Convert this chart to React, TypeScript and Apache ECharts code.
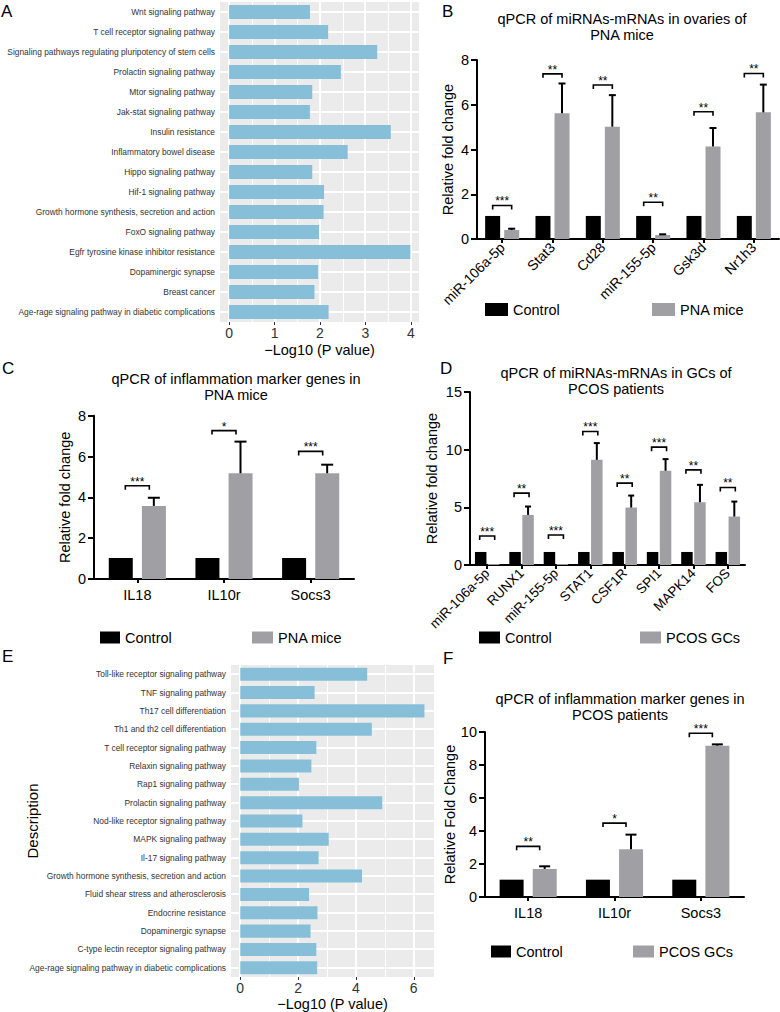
import React, { useEffect, useRef } from 'react';
import * as echarts from 'echarts';

const FONT = '"Liberation Sans", Arial, Helvetica, sans-serif';

// ---------- Panel A (KEGG, mice) ----------
const pathwaysA = [
  'Wnt signaling pathway',
  'T cell receptor signaling pathway',
  'Signaling pathways regulating pluripotency of stem cells',
  'Prolactin signaling pathway',
  'Mtor signaling pathway',
  'Jak-stat signaling pathway',
  'Insulin resistance',
  'Inflammatory bowel disease',
  'Hippo signaling pathway',
  'Hif-1 signaling pathway',
  'Growth hormone synthesis, secretion and action',
  'FoxO signaling pathway',
  'Egfr tyrosine kinase inhibitor resistance',
  'Dopaminergic synapse',
  'Breast cancer',
  'Age-rage signaling pathway in diabetic complications',
];
const valuesA = [1.78, 2.18, 3.26, 2.46, 1.83, 1.78, 3.56, 2.61, 1.83, 2.09, 2.08, 1.98, 3.99, 1.96, 1.88, 2.19];
const majorTicksA = [0, 1, 2, 3, 4];
const minorTicksA = [0.5, 1.5, 2.5, 3.5];

// ---------- Panel E (KEGG, patients) ----------
const pathwaysE = [
  'Toll-like receptor signaling pathway',
  'TNF signaling pathway',
  'Th17 cell differentiation',
  'Th1 and th2 cell differentiation',
  'T cell receptor signaling pathway',
  'Relaxin signaling pathway',
  'Rap1 signaling pathway',
  'Prolactin signaling pathway',
  'Nod-like receptor signaling pathway',
  'MAPK signaling pathway',
  'Il-17 signaling pathway',
  'Growth hormone synthesis, secretion and action',
  'Fluid shear stress and atherosclerosis',
  'Endocrine resistance',
  'Dopaminergic synapse',
  'C-type lectin receptor signaling pathway',
  'Age-rage signaling pathway in diabetic complications',
];
const valuesE = [4.39, 2.57, 6.37, 4.55, 2.63, 2.46, 2.03, 4.91, 2.15, 3.06, 2.71, 4.21, 2.38, 2.67, 2.43, 2.63, 2.66];
const majorTicksE = [0, 2, 4, 6];
const minorTicksE = [1, 3, 5];

// ---------- Panel B ----------
const genesB = ['miR-106a-5p', 'Stat3', 'Cd28', 'miR-155-5p', 'Gsk3d', 'Nr1h3'];
const controlB = [1.03, 1.03, 1.03, 1.03, 1.03, 1.03];
const pnaB = [0.4, 5.62, 5.02, 0.18, 4.13, 5.66];
const pnaErrB = [0.06, 1.33, 1.41, 0.03, 0.83, 1.24];
const starsB = ['***', '**', '**', '**', '**', '**'];
const bracketB = [1.5, 7.38, 6.88, 1.64, 5.69, 7.4];

// ---------- Panel C ----------
const genesC = ['IL18', 'IL10r', 'Socs3'];
const controlC = [1.03, 1.03, 1.03];
const pnaC = [3.58, 5.18, 5.18];
const pnaErrC = [0.4, 1.55, 0.42];
const starsC = ['***', '*', '***'];
const bracketC = [4.57, 7.27, 6.25];

// ---------- Panel D ----------
const genesD = ['miR-106a-5p', 'RUNX1', 'miR-155-5p', 'STAT1', 'CSF1R', 'SPI1', 'MAPK14', 'FOS'];
const controlD = [1.13, 1.13, 1.13, 1.13, 1.13, 1.13, 1.13, 1.13];
const pcosD = [0.08, 4.34, 0.08, 9.12, 4.98, 8.17, 5.44, 4.2];
const pcosErrD = [0, 0.73, 0, 1.45, 1.04, 1.01, 1.51, 1.3];
const starsD = ['***', '**', '***', '***', '**', '***', '**', '**'];
const bracketD = [2.52, 6.23, 2.6, 11.58, 7.1, 10.22, 8.25, 6.72];

// ---------- Panel F ----------
const genesF = ['IL18', 'IL10r', 'Socs3'];
const controlF = [1.05, 1.05, 1.05];
const pcosF = [1.7, 2.9, 9.17];
const pcosErrF = [0.16, 0.88, 0.08];
const starsF = ['**', '*', '***'];
const bracketF = [3.07, 4.48, 9.92];

const BLUE = '#87BFD9';
const GREY = '#A0A0A4';
const PANEL_BG = '#EBEBEB';

const snap = (v: number) => Math.round(v) + 0.5;

function keggPanel(idx: number, cats: string[], vals: number[], major: number[], minor: number[], xMin: number, xMax: number, tickSize: number, yName: string, yNameGap: number, xNameGap: number) {
  const xAxis = {
    type: 'value', gridIndex: idx, min: xMin, max: xMax, splitNumber: 4,
    name: '\u2212Log10 (P value)', nameLocation: 'middle', nameGap: xNameGap, nameMoveOverlap: false,
    nameTextStyle: { fontSize: 14.5, color: '#000', fontFamily: FONT, verticalAlign: 'top' },
    axisLine: { show: false },
    axisTick: { show: true, length: 3, customValues: major, lineStyle: { color: '#333', width: 1 } },
    axisLabel: { customValues: major, fontSize: tickSize, color: '#333', margin: 4, fontFamily: FONT },
    splitLine: { show: false },
  };
  const yAxis = {
    type: 'category', gridIndex: idx, data: cats, inverse: true,
    name: yName, nameLocation: 'middle', nameGap: yNameGap, nameRotate: 90, nameMoveOverlap: false,
    nameTextStyle: { fontSize: 15, color: '#000', fontFamily: FONT },
    axisLine: { show: false },
    axisTick: { show: true, length: 3, alignWithLabel: true, lineStyle: { color: '#333', width: 1 } },
    axisLabel: { interval: 0, fontSize: 8.4, color: '#333', margin: 5, fontFamily: FONT },
    splitLine: { show: false },
  };
  // ggplot-style grey panel with white grid lines, all placed through the axes' own scales
  const series = [
    {
      type: 'custom', xAxisIndex: idx, yAxisIndex: idx, data: [[0, 0]], z: 1, silent: true,
      renderItem: (params: any, api: any) => {
        const cs = params.coordSys;
        const children: any[] = [
          { type: 'rect', shape: { x: cs.x, y: cs.y, width: cs.width, height: cs.height }, style: { fill: PANEL_BG } },
        ];
        minor.forEach((v) => {
          const x = snap(api.coord([v, 0])[0]);
          children.push({ type: 'line', shape: { x1: x, y1: cs.y, x2: x, y2: cs.y + cs.height }, style: { stroke: '#FFFFFF', lineWidth: 1 } });
        });
        major.forEach((v) => {
          const x = Math.round(api.coord([v, 0])[0]);
          children.push({ type: 'line', shape: { x1: x, y1: cs.y, x2: x, y2: cs.y + cs.height }, style: { stroke: '#FFFFFF', lineWidth: 2 } });
        });
        cats.forEach((_, i) => {
          const y = Math.round(api.coord([0, i])[1]);
          children.push({ type: 'line', shape: { x1: cs.x, y1: y, x2: cs.x + cs.width, y2: y }, style: { stroke: '#FFFFFF', lineWidth: 2 } });
        });
        return { type: 'group', children };
      },
    },
    {
      type: 'bar', xAxisIndex: idx, yAxisIndex: idx, data: vals, barWidth: '71%', z: 3,
      itemStyle: { color: BLUE }, silent: true,
    },
  ];
  return { xAxis, yAxis, series };
}

type PrismCfg = {
  yMax: number; yInterval: number; barWidth: number; gapPx: number; capHalf: number; bracketHalf: number;
  rotate: number; labelSize: number; yName: string; nameGap: number; labelMargin: number;
};

function prismPanel(idx: number, cats: string[], ctrl: number[], treat: number[], err: number[], stars: string[], bracket: number[], treatName: string, c: PrismCfg) {
  const off = (c.barWidth + c.gapPx) / 2;
  const xAxis = {
    type: 'category', gridIndex: idx, data: cats,
    axisLine: { show: true, lineStyle: { color: '#000', width: 2 } },
    axisTick: { show: true, alignWithLabel: true, length: 4, lineStyle: { color: '#000', width: 2 } },
    axisLabel: { interval: 0, rotate: c.rotate, fontSize: c.labelSize, color: '#000', margin: c.labelMargin, fontFamily: FONT },
    splitLine: { show: false },
  };
  const yAxis = {
    type: 'value', gridIndex: idx, min: 0, max: c.yMax, interval: c.yInterval,
    name: c.yName, nameLocation: 'middle', nameGap: c.nameGap, nameRotate: 90, nameMoveOverlap: false,
    nameTextStyle: { fontSize: 14.5, color: '#000', fontFamily: FONT },
    axisLine: { show: true, lineStyle: { color: '#000', width: 2 } },
    axisTick: { show: true, length: 6, lineStyle: { color: '#000', width: 2 } },
    axisLabel: { fontSize: 14.5, color: '#000', margin: 8, fontFamily: FONT },
    splitLine: { show: false },
  };
  const gapPct = Math.round((c.gapPx / c.barWidth) * 100) + '%';
  const errData = cats.map((_, i) => [i, treat[i], err[i]]);
  const brData = cats.map((_, i) => [i, bracket[i]]);
  const series = [
    { type: 'bar', name: 'Control', xAxisIndex: idx, yAxisIndex: idx, data: ctrl, barWidth: c.barWidth, barGap: gapPct, itemStyle: { color: '#000' }, silent: true },
    { type: 'bar', name: treatName, xAxisIndex: idx, yAxisIndex: idx, data: treat, barWidth: c.barWidth, barGap: gapPct, itemStyle: { color: GREY }, silent: true },
    {
      type: 'custom', xAxisIndex: idx, yAxisIndex: idx, data: errData, z: 3, silent: true,
      renderItem: (params: any, api: any) => {
        const i = api.value(0), m = api.value(1), e = api.value(2);
        if (!e) return { type: 'group', children: [] };
        const p0 = api.coord([i, m]);
        const p1 = api.coord([i, m + e]);
        const x = p0[0] + off;
        return {
          type: 'group', children: [
            { type: 'line', shape: { x1: x, y1: p0[1], x2: x, y2: p1[1] }, style: { stroke: '#000', lineWidth: 2 } },
            { type: 'line', shape: { x1: x - c.capHalf, y1: p1[1], x2: x + c.capHalf, y2: p1[1] }, style: { stroke: '#000', lineWidth: 2 } },
          ],
        };
      },
    },
    {
      type: 'custom', xAxisIndex: idx, yAxisIndex: idx, data: brData, z: 3, silent: true,
      renderItem: (params: any, api: any) => {
        const i = api.value(0), lvl = api.value(1);
        const p = api.coord([i, lvl]);
        const xl = p[0] - c.bracketHalf, xr = p[0] + c.bracketHalf, y = p[1];
        return {
          type: 'group', children: [
            { type: 'polyline', shape: { points: [[xl, y + 4], [xl, y], [xr, y], [xr, y + 4]] }, style: { stroke: '#000', lineWidth: 1.6, fill: 'none' } },
            { type: 'text', style: { text: stars[params.dataIndex], x: p[0], y: y - 4, align: 'center', verticalAlign: 'middle', fontSize: 12, fill: '#000', fontFamily: FONT } },
          ],
        };
      },
    },
  ];
  return { xAxis, yAxis, series };
}

function buildOption() {
  const A = keggPanel(0, pathwaysA, valuesA, majorTicksA, minorTicksA, -0.2, 4.18, 14, '', 191, 20);
  const B = prismPanel(1, genesB, controlB, pnaB, pnaErrB, starsB, bracketB, 'PNA mice', {
    yMax: 8, yInterval: 2, barWidth: 15, gapPx: 4, capHalf: 3.5, bracketHalf: 9.5, rotate: 45, labelSize: 14,
    yName: 'Relative fold change', nameGap: 22, labelMargin: 6,
  });
  const C = prismPanel(2, genesC, controlC, pnaC, pnaErrC, starsC, bracketC, 'PNA mice', {
    yMax: 8, yInterval: 2, barWidth: 24, gapPx: 9, capHalf: 6, bracketHalf: 12, rotate: 0, labelSize: 14.5,
    yName: 'Relative fold change', nameGap: 22, labelMargin: 8,
  });
  const D = prismPanel(3, genesD, controlD, pcosD, pcosErrD, starsD, bracketD, 'PCOS GCs', {
    yMax: 15, yInterval: 5, barWidth: 11.5, gapPx: 1.5, capHalf: 3, bracketHalf: 7.5, rotate: 45, labelSize: 13.5,
    yName: 'Relative fold change', nameGap: 31, labelMargin: 6,
  });
  const E = keggPanel(4, pathwaysE, valuesE, majorTicksE, minorTicksE, -0.32, 6.7, 14, 'Description', 191, 19);
  const F = prismPanel(5, genesF, controlF, pcosF, pcosErrF, starsF, bracketF, 'PCOS GCs', {
    yMax: 10, yInterval: 2, barWidth: 24, gapPx: 9, capHalf: 5.5, bracketHalf: 11.5, rotate: 0, labelSize: 14.5,
    yName: 'Relative Fold Change', nameGap: 28, labelMargin: 8,
  });
  const panels = [A, B, C, D, E, F];

  const grids = [
    { left: 220, top: 2, width: 199, height: 320 },
    { left: 477, top: 60, width: 302, height: 179 },
    { left: 94, top: 415.7, width: 260, height: 163.3 },
    { left: 470, top: 392, width: 275, height: 173 },
    { left: 231, top: 665, width: 203, height: 312 },
    { left: 485, top: 732, width: 259, height: 165 },
  ].map((g) => ({ containLabel: false, outerBoundsMode: 'none', show: false, ...g }));

  const letter = (t: string, left: number, top: number) => ({
    text: t, left, top, padding: 0, textStyle: { fontSize: 17, fontWeight: 'normal', color: '#000', fontFamily: FONT },
  });
  const heading = (t: string, cx: number, top: number) => ({
    text: t, left: cx, top, padding: 0, textAlign: 'center',
    textStyle: { fontSize: 14.5, fontWeight: 'normal', color: '#000', lineHeight: 16, fontFamily: FONT, align: 'center' },
  });

  const legendBase = {
    orient: 'horizontal', padding: 0, icon: 'rect', itemHeight: 12, selectedMode: false,
    textStyle: { fontSize: 14.5, color: '#000', fontFamily: FONT },
  };
  const lg = (name: string, left: number, top: number, w: number, h: number) => ({
    ...legendBase, data: [name], left, top, itemWidth: w, itemHeight: h,
  });

  return {
    animation: false,
    textStyle: { fontFamily: FONT },
    backgroundColor: '#FFFFFF',
    title: [
      letter('A', 1, 3),
      letter('B', 442, 3),
      letter('C', 2, 360),
      letter('D', 440, 360),
      letter('E', 2, 648),
      letter('F', 443, 650),
      heading('qPCR of miRNAs-mRNAs in ovaries of\nPNA mice', 622, 10.5),
      heading('qPCR of inflammation marker genes in\nPNA mice', 236, 370.5),
      heading('qPCR of miRNAs-mRNAs in GCs of\nPCOS patients', 616, 364.5),
      heading('qPCR of inflammation marker genes in\nPCOS patients', 620, 691),
    ],
    legend: [
      lg('Control', 485, 302, 23, 13),
      lg('PNA mice', 652, 302, 23, 13),
      lg('Control', 100, 630, 20, 12),
      lg('PNA mice', 252, 630, 21, 12),
      lg('Control', 479, 630, 21, 12),
      lg('PCOS GCs', 640, 630, 21, 12),
      lg('Control', 491, 944, 20, 12),
      lg('PCOS GCs', 633, 944, 21, 12),
    ],
    grid: grids,
    xAxis: panels.map((p) => p.xAxis),
    yAxis: panels.map((p) => p.yAxis),
    series: panels.flatMap((p) => p.series),
  };
}

export default function App() {
  const ref = useRef<HTMLDivElement>(null);
  useEffect(() => {
    if (!ref.current) return;
    const chart = echarts.init(ref.current, undefined, { renderer: 'svg' });
    chart.setOption(buildOption() as any);
    return () => chart.dispose();
  }, []);
  return (
    <div
      ref={ref}
      style={{ position: 'absolute', left: 0, top: 0, width: 780, height: 1012, background: '#fff' }}
    />
  );
}
